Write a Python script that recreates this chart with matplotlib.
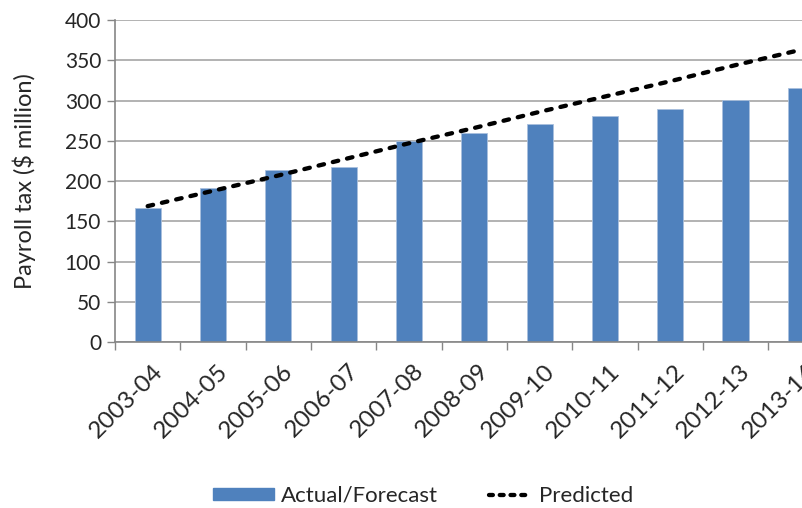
import matplotlib
matplotlib.use("Agg")
from matplotlib import pyplot as plt
from matplotlib import transforms
from matplotlib.lines import Line2D
from matplotlib.patches import Patch
from matplotlib.legend_handler import HandlerLine2D

years = ["2003-04", "2004-05", "2005-06", "2006-07", "2007-08", "2008-09",
         "2009-10", "2010-11", "2011-12", "2012-13", "2013-14"]
actual = [167, 192, 214, 218, 250, 260, 271, 281, 290, 301, 315]
predicted = [169, 188, 207, 227, 247, 266, 286, 305, 324, 344, 363]

bar_color = "#4f81bd"
grid_color = "#a6a6a6"
axis_color = "#868686"
text_color = "#262626"


class ShortLine(HandlerLine2D):
    # dashed sample in the legend is shorter than the bar swatch
    def get_xdata(self, legend, xdescent, ydescent, width, height, fontsize):
        xs = [-xdescent + 0.3 * width, -xdescent + width]
        return xs, xs


plt.rcParams["font.family"] = ["Lato", "DejaVu Sans"]

dpi = 100
fig = plt.figure(figsize=(802 / dpi, 508 / dpi), dpi=dpi)
# plot area runs off the right edge of the picture, as in the reference
ax = fig.add_axes([115 / 802, (508 - 342.3) / 508, 718.5 / 802, 322.3 / 508])

xs = range(len(years))
ax.bar(xs, actual, width=0.4, color=bar_color, edgecolor="#a9c0dd",
       linewidth=0.6, zorder=2)
ax.plot(xs, predicted, color="black", linewidth=3.1, linestyle=(0, (1.3, 2.1)),
        dash_capstyle="round", zorder=3)

ax.set_xlim(-0.5, len(years) - 0.5)
ax.set_ylim(0, 400)
ax.set_yticks(range(0, 401, 50))
ax.yaxis.grid(True, color=grid_color, linewidth=1.2)
ax.set_axisbelow(True)

ax.set_xticks(list(xs))
ax.set_xticklabels(years, rotation=45, ha="right", rotation_mode="anchor",
                   fontsize=17.5, color=text_color)
ax.tick_params(axis="x", which="major", length=0, pad=13)
shift = transforms.ScaledTranslation(4 / dpi, 0, fig.dpi_scale_trans)
for lab in ax.get_xticklabels():
    lab.set_transform(lab.get_transform() + shift)
ax.set_xticks([i - 0.5 for i in range(len(years) + 1)], minor=True)
ax.tick_params(axis="x", which="minor", length=6, width=1, color=axis_color)
ax.tick_params(axis="y", length=6, width=1, color=axis_color, pad=4,
               labelsize=15, labelcolor=text_color)

for side in ["top", "right"]:
    ax.spines[side].set_visible(False)
for side in ["left", "bottom"]:
    ax.spines[side].set_color(axis_color)
    ax.spines[side].set_linewidth(1.2)

ax.set_ylabel("Payroll tax ($ million)", fontsize=17, color=text_color, labelpad=21)

handles = [Patch(facecolor=bar_color, edgecolor=bar_color),
           Line2D([], [], color="black", linewidth=3.1, linestyle=(0, (0.9, 1.6)),
                  dash_capstyle="round")]
fig.legend(handles, ["Actual/Forecast", "Predicted"], loc="center",
           bbox_to_anchor=(423 / 802, 1 - 496 / 508), ncol=2, frameon=False,
           fontsize=16, handlelength=2.75, handleheight=0.45, columnspacing=1.5,
           handletextpad=0.3, labelcolor=text_color,
           handler_map={Line2D: ShortLine()})

fig.savefig("out.png", dpi=dpi)
